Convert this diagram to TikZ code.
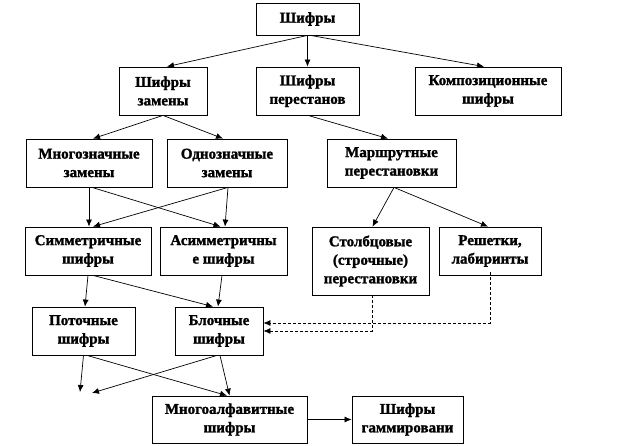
\documentclass[tikz,border=0pt]{standalone}
\usepackage{fontspec}
\setmainfont{Liberation Serif}[BoldFeatures={FakeBold=1.5}]
\usetikzlibrary{arrows.meta}
\begin{document}
\begin{tikzpicture}[x=1pt,y=-1pt,
  box/.style={draw,line width=0.8pt,align=center,inner sep=0pt,
    font=\fontsize{15}{18.5}\selectfont\bfseries},
  arr/.style={line width=0.7pt,-{Latex[length=7pt,width=6pt]}},
  dasharr/.style={arr,dash pattern=on 3pt off 2pt}]
\useasboundingbox (0,0) rectangle (640,446);
\node[box,minimum width=103pt,minimum height=32pt] (top) at (307.5,19) {Шифры};
\node[box,minimum width=88pt,minimum height=48pt] (zam) at (163,91) {Шифры\\замены};
\node[box,minimum width=103pt,minimum height=48pt] (per) at (307.5,91) {Шифры\\перестанов};
\node[box,minimum width=146pt,minimum height=48pt] (komp) at (488,91) {Композиционные\\шифры};
\node[box,minimum width=126pt,minimum height=48pt] (mnog) at (89,163) {Многозначные\\замены};
\node[box,minimum width=120pt,minimum height=48pt] (odno) at (227,163) {Однозначные\\замены};
\node[box,minimum width=129pt,minimum height=48pt] (marsh) at (391.5,163) {Маршрутные\\перестановки};
\node[box,minimum width=126pt,minimum height=48pt] (sim) at (88,251) {Симметричные\\шифры};
\node[box,minimum width=127pt,minimum height=48pt] (asim) at (223.5,251) {Асимметричны\\е шифры};
\node[box,minimum width=117pt,minimum height=68pt] (stolb) at (370.5,261) {Столбцовые\\(строчные)\\перестановки};
\node[box,minimum width=102pt,minimum height=48pt] (resh) at (490,251) {Решетки,\\лабиринты};
\node[box,minimum width=103pt,minimum height=48pt] (potok) at (83.5,331) {Поточные\\шифры};
\node[box,minimum width=88pt,minimum height=48pt] (block) at (219,331) {Блочные\\шифры};
\node[box,minimum width=155pt,minimum height=47pt] (mnalf) at (229.5,419.5) {Многоалфавитные\\шифры};
\node[box,minimum width=111pt,minimum height=47pt] (gamma) at (407.5,419.5) {Шифры\\гаммировани};
\coordinate (f1) at (80,392);
\coordinate (f2) at (92,393);
% connectors
\draw[arr] (top.south) -- ([xshift=4pt]zam.north);
\draw[arr] (top.south) -- (per.north);
\draw[arr] ([xshift=3pt]top.south) -- ([xshift=-4pt]komp.north);
\draw[arr] (zam.south) -- ([xshift=4pt]mnog.north);
\draw[arr] (zam.south) -- ([xshift=-4pt]odno.north);
\draw[arr] ([xshift=0.5pt]per.south) -- ([xshift=-3.5pt]marsh.north);
\draw[arr] ([xshift=2.5pt]marsh.south) -- ([xshift=2pt]stolb.north);
\draw[arr] ([xshift=2.5pt]marsh.south) -- ([xshift=-2pt]resh.north);
\draw[arr] (mnog.south) -- (mnog.south |- sim.north);
\draw[arr] ([xshift=3pt]mnog.south) -- ([xshift=-3pt]asim.north);
\draw[arr] ([xshift=1pt]odno.south) -- ([xshift=5pt]sim.north);
\draw[arr] ([xshift=1pt]odno.south) -- ([xshift=1.5pt]asim.north);
\draw[arr] (sim.south) -- ([xshift=1.5pt]potok.north);
\draw[arr] ([xshift=5pt]sim.south) -- ([xshift=-6pt]block.north);
\draw[arr] ([xshift=-1.5pt]asim.south) -- ([xshift=-1pt]block.north);
\draw[arr] (potok.south) -- (f1);
\draw[arr] ([xshift=3.5pt]potok.south) -- ([xshift=-2.5pt]mnalf.north);
\draw[arr] ([xshift=1pt]block.south) -- (mnalf.north);
\draw[arr] ([xshift=-2pt]block.south) -- (f2);
\draw[arr] (mnalf.east) -- (gamma.west);
\draw[dasharr] ([xshift=1.5pt]stolb.south) |- (block.east);
\draw[dasharr] ([yshift=3pt]resh.south) |- ([yshift=8pt]block.east);
\end{tikzpicture}
\end{document}
